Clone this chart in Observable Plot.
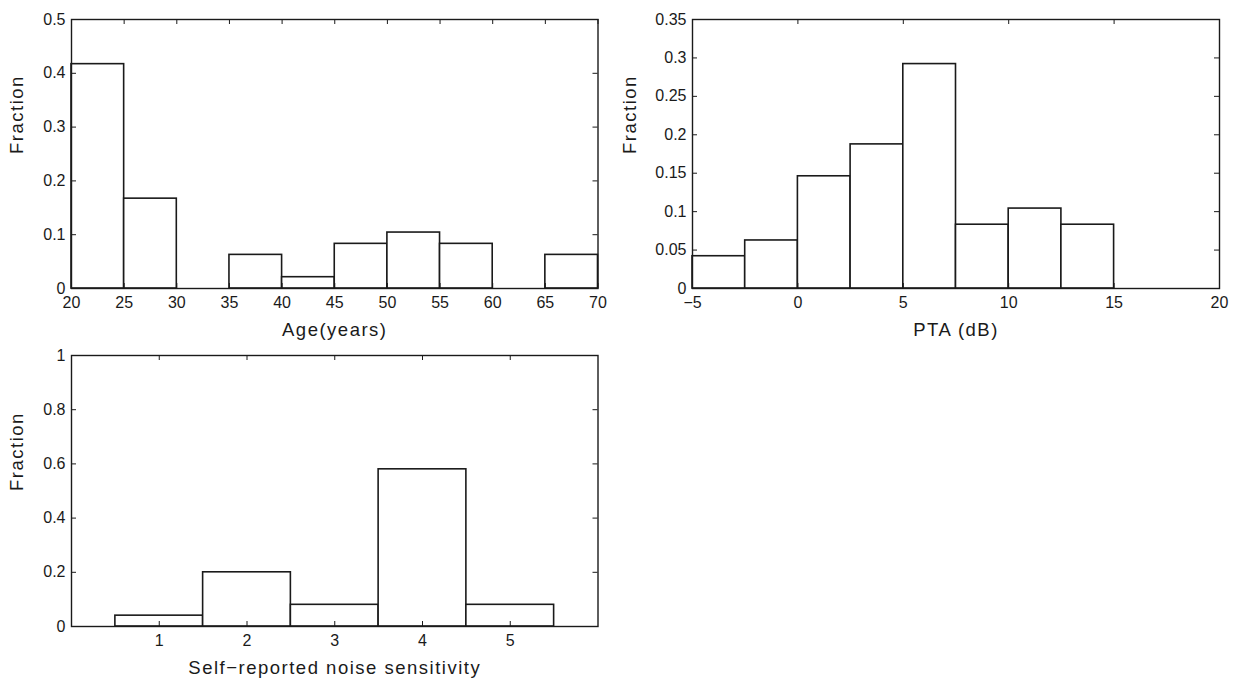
<!DOCTYPE html>
<html>
<head>
<meta charset="utf-8">
<script src="https://cdn.jsdelivr.net/npm/d3@7"></script>
<script src="https://cdn.jsdelivr.net/npm/@observablehq/plot@0.6"></script>
<style>
  html, body { margin: 0; padding: 0; background: #fff; }
  #wrap { position: relative; width: 1239px; height: 679px; overflow: hidden; background: #fff; }
  .panel { position: absolute; }
  .panel svg { background: transparent !important; overflow: visible; }
</style>
</head>
<body>
<div id="wrap"></div>
<script>
// ---- Data ----
const ageBinStart = [20, 25, 30, 35, 40, 45, 50, 55, 60, 65];
const ageBinWidth = 5;
const ageFraction = [0.417, 0.167, 0, 0.0625, 0.021, 0.083, 0.104, 0.083, 0, 0.0625];
const ageXTicks = [20, 25, 30, 35, 40, 45, 50, 55, 60, 65, 70];
const ageYTicks = [0, 0.1, 0.2, 0.3, 0.4, 0.5];

const ptaBinStart = [-5, -2.5, 0, 2.5, 5, 7.5, 10, 12.5, 15, 17.5];
const ptaBinWidth = 2.5;
const ptaFraction = [0.042, 0.0625, 0.146, 0.1875, 0.292, 0.083, 0.104, 0.083, 0, 0];
const ptaXTicks = [-5, 0, 5, 10, 15, 20];
const ptaYTicks = [0, 0.05, 0.1, 0.15, 0.2, 0.25, 0.3, 0.35];

const noiseLevel = [1, 2, 3, 4, 5];
const noiseBinWidth = 1;
const noiseFraction = [0.04, 0.2, 0.08, 0.58, 0.08];
const noiseXTicks = [1, 2, 3, 4, 5];
const noiseYTicks = [0, 0.2, 0.4, 0.6, 0.8, 1];

const yTitle = "Fraction";
const xTitles = ["Age(years)", "PTA (dB)", "Self\u2212reported noise sensitivity"];

// ---- Helpers ----
const FONT = "'Liberation Sans', Arial, Helvetica, sans-serif";
const fmt = d3.format("~g");
const INK = "#1a1a1a";

function panel({left, top, width, height, margin, xDomain, yDomain, xTicks, yTicks,
                bars, xLabel, yLabelOffset}) {
  const [mt, mr, mb, ml] = margin;
  const innerH = height - mt - mb;
  const innerW = width - ml - mr;
  const tickLen = 5;
  const chart = Plot.plot({
    width, height,
    marginTop: mt, marginRight: mr, marginBottom: mb, marginLeft: ml,
    style: {fontFamily: FONT, fontSize: "16px", color: INK, background: "transparent", overflow: "visible"},
    x: {domain: xDomain},
    y: {domain: yDomain},
    marks: [
      Plot.rect(bars, {x1: "x1", x2: "x2", y1: 0, y2: "y", fill: "white", stroke: INK, strokeWidth: 1.6}),
      // inward ticks (bottom & top)
      Plot.tickX(xTicks, {x: d => d, stroke: INK, strokeWidth: 1, insetTop: innerH - tickLen}),
      Plot.tickX(xTicks, {x: d => d, stroke: INK, strokeWidth: 1, insetBottom: innerH - tickLen}),
      // inward ticks (left & right)
      Plot.tickY(yTicks, {y: d => d, stroke: INK, strokeWidth: 1, insetRight: innerW - tickLen}),
      Plot.tickY(yTicks, {y: d => d, stroke: INK, strokeWidth: 1, insetLeft: innerW - tickLen}),
      Plot.frame({stroke: INK, strokeWidth: 1.4}),
      Plot.axisX({ticks: xTicks, tickSize: 0, tickPadding: 8, tickFormat: fmt, fontSize: 16, label: null, fill: INK}),
      Plot.axisY({ticks: yTicks, tickSize: 0, tickPadding: 6, tickFormat: fmt, fontSize: 16, label: null, fill: INK}),
      Plot.text([xLabel], {text: d => d, frameAnchor: "bottom", dy: 47, lineAnchor: "bottom",
                           fontSize: 18.5, fill: INK}),
      Plot.text([yTitle], {text: d => d, frameAnchor: "left", dx: -yLabelOffset, rotate: -90,
                           lineAnchor: "middle", fontSize: 18.5, fill: INK})
    ]
  });
  // widen the axis titles slightly, as in the reference
  d3.select(chart).selectAll("text")
    .filter(function () { const t = this.textContent; return t === xLabel || t === yTitle; })
    .style("letter-spacing", "1.5px");
  const div = document.createElement("div");
  div.className = "panel";
  div.style.left = left + "px";
  div.style.top = top + "px";
  div.appendChild(chart);
  document.getElementById("wrap").appendChild(div);
}

const ageBars = ageBinStart.map((s, i) => ({x1: s, x2: s + ageBinWidth, y: ageFraction[i]}));
const ptaBars = ptaBinStart.map((s, i) => ({x1: s, x2: s + ptaBinWidth, y: ptaFraction[i]}));
const noiseBars = noiseLevel.map((s, i) => ({x1: s - noiseBinWidth / 2, x2: s + noiseBinWidth / 2, y: noiseFraction[i]}));

panel({left: 0, top: 330, width: 620, height: 349, margin: [25, 22.5, 53, 71],
       xDomain: [0, 6], yDomain: [0, 1], xTicks: noiseXTicks, yTicks: noiseYTicks,
       bars: noiseBars, xLabel: xTitles[2], yLabelOffset: 54});

panel({left: 0, top: 0, width: 620, height: 340, margin: [19, 22.5, 52, 71],
       xDomain: [20, 70], yDomain: [0, 0.5], xTicks: ageXTicks, yTicks: ageYTicks,
       bars: ageBars, xLabel: xTitles[0], yLabelOffset: 54});

panel({left: 620, top: 0, width: 619, height: 340, margin: [19, 20, 52, 72],
       xDomain: [-5, 20], yDomain: [0, 0.35], xTicks: ptaXTicks, yTicks: ptaYTicks,
       bars: ptaBars, xLabel: xTitles[1], yLabelOffset: 62});
</script>
</body>
</html>
